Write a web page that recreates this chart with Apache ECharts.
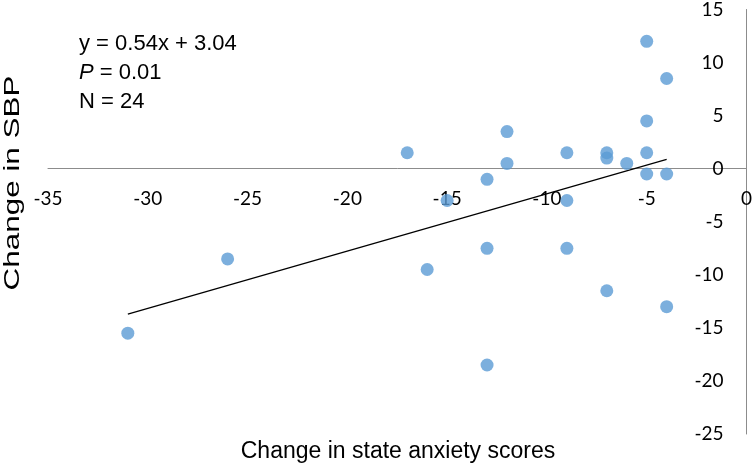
<!DOCTYPE html>
<html>
<head>
<meta charset="utf-8">
<script src="https://cdn.jsdelivr.net/npm/echarts@6/dist/echarts.min.js"></script>
<style>
  html, body { margin: 0; padding: 0; background: #fff; }
  #chart { width: 755px; height: 467px; }
</style>
</head>
<body>
<div id="chart"></div>
<script>
// anxiety change (x) vs SBP change (y), 24 subjects
const anxietyChange = [-31, -26, -17, -16, -15, -13, -13, -13, -12, -12, -9, -9,
  -9, -7, -7, -7, -6, -5, -5, -5, -5, -4, -4, -4];
const sbpChange = [-15.5, -8.5, 1.5, -9.5, -3, -1, -7.5, -18.5, 3.5, 0.5, 1.5, -3,
  -7.5, 1.5, 1, -11.5, 0.5, 12, 4.5, 1.5, -0.5, 8.5, -0.5, -13];
// trend line ends as seen on the picture
const trendX = [-31, -4];
const trendY = [-13.7, 0.88];
const noteLines = ["y = 0.54x + 3.04", "{i|P} = 0.01", "N = 24"];

const points = anxietyChange.map((x, i) => [x, sbpChange[i]]);
const trend = trendX.map((x, i) => [x, trendY[i]]);

const yMin = -25, yMax = 15;
const gridTop = 8.5, gridBottom = 33, chartH = 467;
// x axis (with its labels) sits on y = 0
const plotH = chartH - gridTop - gridBottom;
const xAxisOffset = -plotH * (0 - yMin) / (yMax - yMin);

const chart = echarts.init(document.getElementById("chart"));
const labelFont = { fontFamily: "Lato", fontSize: 19, color: "#000" };
const arial = "Liberation Sans";

const option = {
  animation: false,
  grid: { left: 48, right: 5, top: gridTop, bottom: gridBottom, containLabel: false },
  xAxis: {
    type: "value",
    min: -35,
    max: 0,
    interval: 5,
    offset: xAxisOffset,
    axisLine: { onZero: false, lineStyle: { color: "#8c8c8c", width: 1 } },
    axisTick: { show: false },
    splitLine: { show: false },
    axisLabel: Object.assign({ margin: 21 }, labelFont),
  },
  yAxis: {
    type: "value",
    position: "right",
    min: yMin,
    max: yMax,
    interval: 5,
    axisLine: { show: true, onZero: false, lineStyle: { color: "#8c8c8c", width: 1 } },
    axisTick: { show: false },
    splitLine: { show: false },
    axisLabel: Object.assign({ inside: true, margin: 23 }, labelFont),
  },
  graphic: [
    ...noteLines.map((t, i) => ({
      type: "text",
      left: 79,
      top: 33 + i * 29,
      style: {
        text: t,
        font: "22px " + arial,
        fill: "#000",
        rich: { i: { fontStyle: "italic", fontFamily: arial, fontSize: 22 } },
      },
    })),
    {
      type: "text",
      x: 398,
      y: 452,
      style: {
        text: "Change in state anxiety scores",
        font: "23px " + arial,
        fill: "#000",
        align: "center",
        verticalAlign: "middle",
      },
    },
    {
      type: "text",
      x: 13,
      y: 183,
      rotation: Math.PI / 2,
      scaleX: 1.43,
      style: {
        text: "Change in SBP",
        font: "22px " + arial,
        fill: "#000",
        align: "center",
        verticalAlign: "middle",
      },
    },
  ],
  series: [
    {
      type: "scatter",
      data: points,
      symbolSize: 13,
      itemStyle: { color: "#5b9bd5" },
      z: 3,
    },
    {
      type: "line",
      data: trend,
      symbol: "none",
      lineStyle: { color: "#000", width: 1.2 },
      z: 2,
    },
  ],
};
chart.setOption(option);
</script>
</body>
</html>
